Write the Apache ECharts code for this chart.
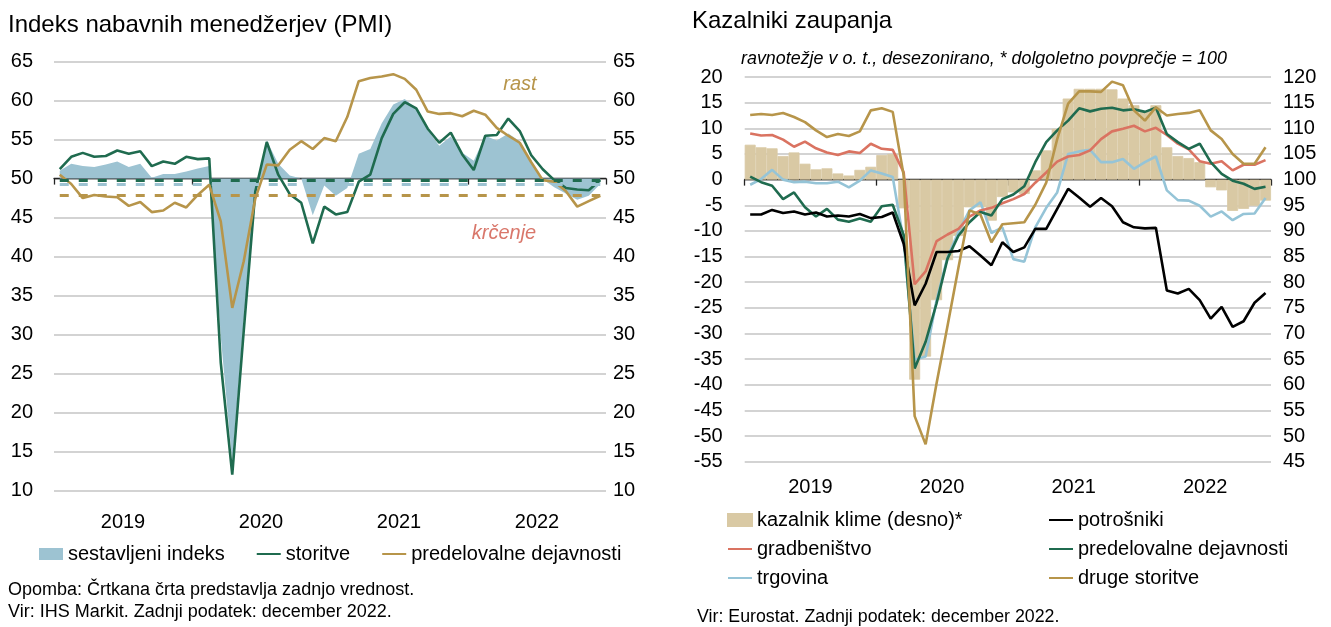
<!DOCTYPE html>
<html>
<head>
<meta charset="utf-8">
<script src="https://cdn.jsdelivr.net/npm/echarts@6/dist/echarts.min.js"></script>
<style>
html,body{margin:0;padding:0;background:#fff;}
#c{width:1331px;height:627px;}
</style>
</head>
<body>
<div id="c"></div>
<script>
// ---------- data ----------
const years = ['2019', '2020', '2021', '2022'];
const months = [];
years.forEach(y => { for (let m = 1; m <= 12; m++) months.push(y + '-' + String(m).padStart(2, '0')); });

// Left chart: PMI
const pmiComposite = [51.0,51.9,51.6,51.5,51.8,52.2,51.5,51.9,50.1,50.6,50.6,50.9,
  51.3,51.6,29.7,13.6,31.9,48.5,54.9,51.9,50.4,50.0,45.3,49.1,
  47.8,48.8,53.2,53.8,57.1,59.5,60.2,59.0,56.2,54.2,55.4,53.3,
  52.3,55.5,54.9,55.8,54.8,52.0,49.9,48.9,48.1,47.3,47.8,49.3];
const pmiServices = [51.2,52.8,53.3,52.8,52.9,53.6,53.2,53.5,51.6,52.2,51.9,52.8,
  52.5,52.6,26.4,12.0,30.5,48.3,54.7,50.5,48.0,46.9,41.7,46.4,
  45.4,45.7,49.6,50.5,55.2,58.3,59.8,59.0,56.4,54.6,55.9,53.1,
  51.1,55.5,55.6,57.7,56.1,53.0,51.2,49.8,48.8,48.6,48.5,49.8];
const pmiManufacturing = [50.5,49.3,47.5,47.9,47.7,47.6,46.5,47.0,45.7,45.9,46.9,46.3,
  47.9,49.2,44.5,33.4,39.4,47.4,51.8,51.7,53.7,54.8,53.8,55.2,
  54.8,57.9,62.5,62.9,63.1,63.4,62.8,61.4,58.6,58.3,58.4,58.0,
  58.7,58.2,56.5,55.5,54.6,52.1,49.8,49.6,48.4,46.4,47.1,47.8];
const pmiNeutral = 50;

// Right chart: confidence indicators
const esi = [106.8,106.3,106.1,104.6,105.3,103.1,102.0,102.2,101.2,100.8,101.9,102.5,
  104.8,105.0,94.4,61.0,65.5,76.5,84.3,89.0,94.6,94.6,92.0,96.6,
  97.5,97.2,101.8,105.7,109.9,115.8,117.7,117.7,117.7,117.6,115.8,114.5,
  113.3,114.5,106.3,104.6,104.2,103.4,98.5,97.9,93.9,94.3,94.9,95.9];
const esiAverage = 100;
const consumers = [-6.8,-6.8,-5.9,-6.5,-6.2,-6.8,-6.4,-7.2,-7.0,-7.2,-6.7,-7.5,
  -7.3,-6.4,-12.5,-24.5,-20.3,-14.1,-14.1,-13.9,-13.0,-14.8,-16.7,-12.2,
  -14.1,-13.2,-9.6,-9.6,-5.7,-1.8,-3.5,-5.3,-3.6,-5.2,-8.3,-9.3,
  -9.5,-9.4,-21.6,-22.2,-21.3,-23.5,-27.1,-24.8,-28.7,-27.6,-24.0,-22.1];
const construction = [9.0,8.6,8.7,7.8,6.4,7.4,6.1,5.3,4.8,5.5,5.2,7.0,
  6.0,5.8,1.4,-20.4,-17.9,-12.0,-10.7,-9.6,-7.2,-6.0,-5.5,-4.6,
  -3.8,-2.8,-0.6,1.4,3.5,4.5,4.8,5.7,7.9,9.4,9.9,10.5,
  9.4,10.1,8.7,7.0,5.9,3.6,3.1,3.6,1.8,2.9,2.9,3.8];
const industry = [0.6,-0.5,-1.2,-3.8,-2.5,-5.4,-7.2,-5.7,-7.8,-8.2,-7.6,-8.2,
  -5.2,-4.9,-10.8,-36.8,-31.6,-24.1,-15.4,-10.9,-8.3,-6.3,-7.0,-3.8,
  -2.9,-1.3,3.4,7.3,9.6,11.5,13.9,13.3,13.8,14.0,13.5,13.7,
  13.2,14.0,8.9,7.3,6.0,7.0,3.4,1.1,-0.2,-0.8,-1.8,-1.4];
const retail = [-1.0,0.1,1.9,0.0,-0.5,-0.4,-0.7,-0.7,-0.4,-1.5,-0.2,1.8,
  1.2,0.5,-12.0,-35.1,-34.5,-23.5,-15.1,-10.2,-6.0,-4.4,-10.4,-9.3,
  -15.5,-16.0,-9.3,-5.5,-2.5,5.0,5.5,5.8,3.4,3.4,4.0,2.1,
  3.4,4.5,-2.1,-4.0,-4.1,-5.1,-7.2,-6.2,-7.9,-6.7,-6.6,-3.6];
const otherServices = [12.6,12.8,12.6,13.0,12.2,11.2,9.6,8.3,8.9,8.5,9.4,13.5,
  13.9,13.2,0.8,-46.1,-51.6,-39.7,-28.5,-17.1,-6.0,-6.8,-12.2,-8.7,
  -8.5,-8.3,-4.9,-0.6,7.9,14.8,17.2,17.2,17.1,19.1,18.4,13.5,
  11.5,14.1,12.5,12.8,13.0,13.5,9.6,7.9,5.0,3.1,3.1,6.3];

// ---------- layout / style ----------
const FONT = "'Liberation Sans', Arial, sans-serif";
const C = {
  blueArea: '#9DC3D2', green: '#1F6B4F', gold: '#B7954A', red: '#DA7361',
  lightBlue: '#95C4D7', tan: '#D9C9A4', black: '#000000', grid: '#C4C4C4', salmon: '#D9776B'
};
const G0 = { left: 54, top: 61.7, width: 552, height: 428.6 };
const G1 = { left: 744.7, top: 77, width: 526.3, height: 384.8 };
const L = { min: 10, max: 65, step: 5 };
const R = { min: -55, max: 20, step: 5 };
const RR = { min: 45, max: 120 };
const off0 = -((pmiNeutral - L.min) / (L.max - L.min)) * G0.height;
const off1 = -((0 - R.min) / (R.max - R.min)) * G1.height;
const tickFont = { fontSize: 20, color: '#000', fontFamily: FONT };
const last = a => a[a.length - 1];

function lastLine(arr, color) {
  return {
    silent: true, symbol: ['none', 'none'], label: { show: false },
    lineStyle: { type: [9, 10], width: 3, color: color },
    emphasis: { disabled: true },
    data: [[{ coord: [months[0], last(arr)] }, { coord: [months[months.length - 1], last(arr)] }]]
  };
}
function lineSeries(name, data, color, xi, yi, extra) {
  return Object.assign({
    name: name, type: 'line', data: data, xAxisIndex: xi, yAxisIndex: yi,
    symbol: 'none', color: color, lineStyle: { width: 2.6, color: color },
    emphasis: { disabled: true }
  }, extra || {});
}
const lineItem = name => ({ name: name, itemStyle: { opacity: 0 } });
const legendText = { fontSize: 20, color: '#000', fontFamily: FONT };
const textStyleN = (size, extra) => Object.assign({ fontSize: size, fontWeight: 'normal', color: '#000', fontFamily: FONT }, extra || {});

const industryName = 'predelovalne dejavnosti\u200B';

const option = {
  animation: false,
  textStyle: { fontFamily: FONT },
  title: [
    { text: 'Indeks nabavnih menedžerjev (PMI)', left: 8, top: 13, padding: 0, textStyle: textStyleN(24) },
    { text: 'Kazalniki zaupanja', left: 692, top: 9, padding: 0, textStyle: textStyleN(24) },
    { text: 'ravnotežje v o. t., desezonirano, * dolgoletno povprečje = 100', left: 741, top: 50, padding: 0,
      textStyle: textStyleN(17.9, { fontStyle: 'italic' }) },
    { text: 'Opomba: Črtkana črta predstavlja zadnjo vrednost.', left: 8, top: 581, padding: 0, textStyle: textStyleN(18) },
    { text: 'Vir: IHS Markit. Zadnji podatek: december 2022.', left: 8, top: 603, padding: 0, textStyle: textStyleN(18) },
    { text: 'Vir: Eurostat. Zadnji podatek: december 2022.', left: 697, top: 608, padding: 0, textStyle: textStyleN(17.8) }
  ],
  graphic: [
    { type: 'text', x: 520, y: 84, silent: true,
      style: { text: 'rast', fill: C.gold, font: 'italic 20px ' + FONT, textAlign: 'center', textVerticalAlign: 'middle', verticalAlign: 'middle', align: 'center' } },
    { type: 'text', x: 504, y: 233, silent: true,
      style: { text: 'krčenje', fill: C.salmon, font: 'italic 20px ' + FONT, textAlign: 'center', textVerticalAlign: 'middle', verticalAlign: 'middle', align: 'center' } }
  ],
  legend: [
    { left: 39, top: 544, padding: 0, orient: 'horizontal', itemWidth: 24, itemHeight: 12, itemGap: 31,
      textStyle: legendText, selectedMode: false,
      data: [{ name: 'sestavljeni indeks', icon: 'rect' }, lineItem('storitve'), lineItem('predelovalne dejavnosti')] },
    { left: 727, top: 510, padding: 0, orient: 'vertical', itemWidth: 24, itemHeight: 12, itemGap: 9,
      textStyle: legendText, selectedMode: false,
      data: [{ name: 'kazalnik klime (desno)*', icon: 'rect' }, lineItem('gradbeništvo'), lineItem('trgovina')] },
    { left: 1048, top: 510, padding: 0, orient: 'vertical', itemWidth: 24, itemHeight: 12, itemGap: 9,
      textStyle: legendText, selectedMode: false,
      data: [lineItem('potrošniki'), lineItem(industryName), lineItem('druge storitve')] }
  ],
  grid: [
    Object.assign({ containLabel: false }, G0),
    Object.assign({ containLabel: false }, G1)
  ],
  xAxis: [
    { gridIndex: 0, type: 'category', data: months, show: false, position: 'top', boundaryGap: true },
    { gridIndex: 0, type: 'category', data: years, position: 'bottom', offset: off0, boundaryGap: true,
      axisLine: { onZero: false, lineStyle: { color: '#222', width: 1.3 } },
      axisTick: { show: true, length: 6, inside: false, lineStyle: { color: '#222', width: 1.3 } },
      axisLabel: Object.assign({ margin: 334 }, tickFont), splitLine: { show: false } },
    { gridIndex: 1, type: 'category', data: months, show: false, position: 'top', boundaryGap: true },
    { gridIndex: 1, type: 'category', data: years, position: 'bottom', offset: off1, boundaryGap: true,
      axisLine: { onZero: false, lineStyle: { color: '#222', width: 1.3 } },
      axisTick: { show: true, length: 6, inside: false, lineStyle: { color: '#222', width: 1.3 } },
      axisLabel: Object.assign({ margin: 298 }, tickFont), splitLine: { show: false } }
  ],
  yAxis: [
    { gridIndex: 0, type: 'value', min: L.min, max: L.max, interval: L.step, position: 'left',
      axisLine: { show: false }, axisTick: { show: false },
      axisLabel: Object.assign({ margin: 21 }, tickFont),
      splitLine: { show: true, lineStyle: { color: C.grid, width: 1.5 } } },
    { gridIndex: 0, type: 'value', min: L.min, max: L.max, interval: L.step, position: 'right',
      axisLine: { show: false }, axisTick: { show: false },
      axisLabel: Object.assign({ margin: 7 }, tickFont), splitLine: { show: false } },
    { gridIndex: 1, type: 'value', min: R.min, max: R.max, interval: R.step, position: 'left',
      axisLine: { show: false }, axisTick: { show: false },
      axisLabel: Object.assign({ margin: 22 }, tickFont),
      splitLine: { show: true, lineStyle: { color: C.grid, width: 1.5 } } },
    { gridIndex: 1, type: 'value', min: RR.min, max: RR.max, interval: R.step, position: 'right',
      axisLine: { show: false }, axisTick: { show: false },
      axisLabel: Object.assign({ margin: 12 }, tickFont), splitLine: { show: false } }
  ],
  series: [
    lineSeries('sestavljeni indeks', pmiComposite, C.blueArea, 0, 0, {
      lineStyle: { width: 0, color: C.blueArea },
      itemStyle: { color: C.blueArea },
      areaStyle: { origin: pmiNeutral, color: C.blueArea, opacity: 1 },
      markLine: lastLine(pmiComposite, C.blueArea), z: 1
    }),
    lineSeries('storitve', pmiServices, C.green, 0, 0, { markLine: lastLine(pmiServices, C.green), z: 3 }),
    lineSeries('predelovalne dejavnosti', pmiManufacturing, C.gold, 0, 0, { markLine: lastLine(pmiManufacturing, C.gold), z: 3 }),

    { name: 'kazalnik klime (desno)*', type: 'bar', xAxisIndex: 2, yAxisIndex: 2,
      data: esi.map(v => +(v - esiAverage).toFixed(1)), barCategoryGap: '0%',
      itemStyle: { color: C.tan, borderColor: C.tan, borderWidth: 0.8 }, color: C.tan, z: 1,
      emphasis: { disabled: true } },
    lineSeries('trgovina', retail, C.lightBlue, 2, 2),
    lineSeries('gradbeništvo', construction, C.red, 2, 2),
    lineSeries(industryName, industry, C.green, 2, 2),
    lineSeries('potrošniki', consumers, C.black, 2, 2),
    lineSeries('druge storitve', otherServices, C.gold, 2, 2)
  ]
};

const chart = echarts.init(document.getElementById('c'), null, { renderer: 'canvas' });
chart.setOption(option);
</script>
</body>
</html>
